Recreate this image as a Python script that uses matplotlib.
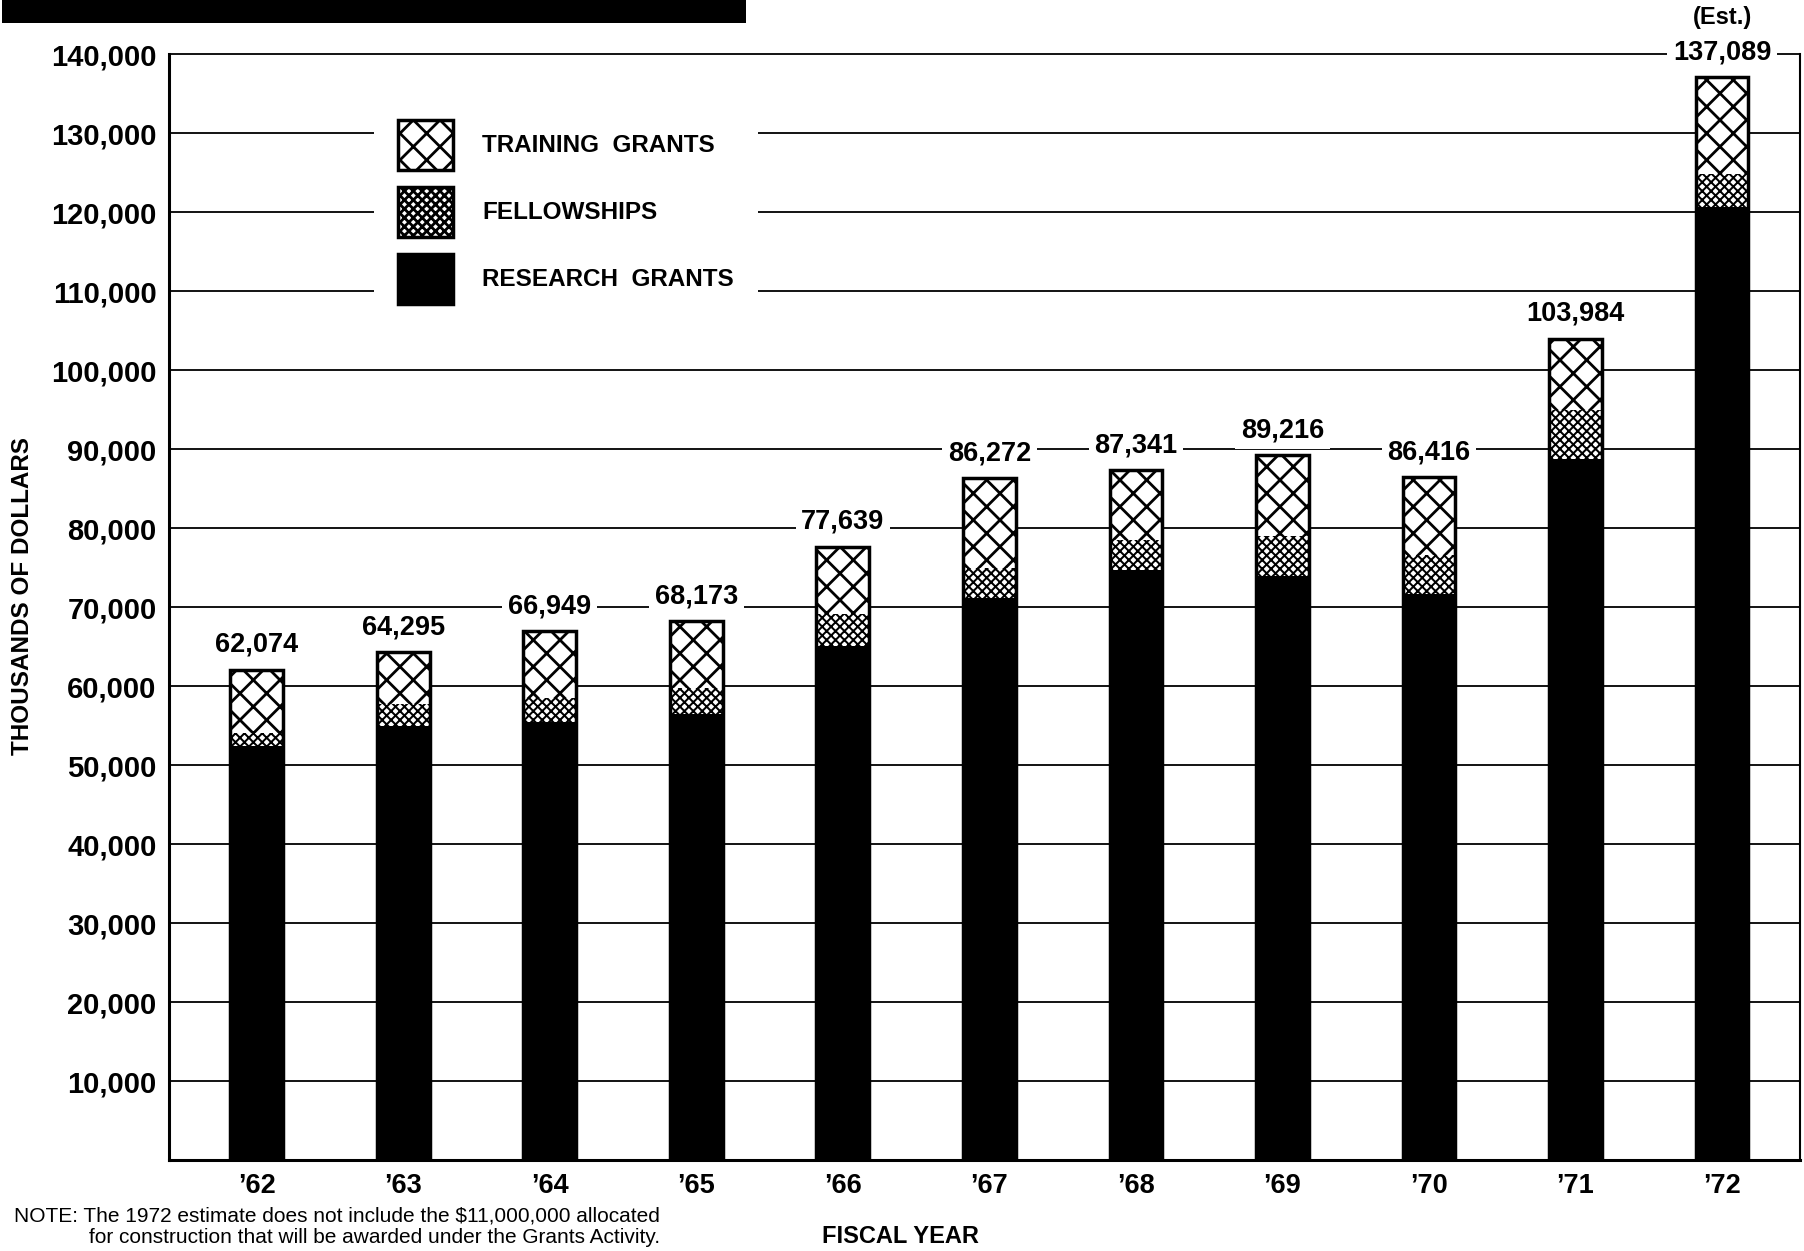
import matplotlib
matplotlib.use('Agg')
import matplotlib.pyplot as plt
from matplotlib.patches import Rectangle, Patch
import numpy as np

# drawn at 80 dpi so the hatch cells come out at the printed density;
# S converts sizes given for 100 dpi into points at 80 dpi
DPI = 80
S = 100 / DPI

plt.rcParams['font.family'] = ['Liberation Sans', 'DejaVu Sans']
plt.rcParams['hatch.linewidth'] = 2.0 * S

# Grant awards by fiscal year, thousands of dollars
years = ['’62', '’63', '’64', '’65', '’66', '’67', '’68', '’69', '’70', '’71', '’72']
research = [52400, 54900, 55400, 56400, 65100, 71100, 74700, 73900, 71700, 88700, 120600]
fellowships = [1600, 2800, 3100, 3300, 4000, 3800, 3850, 5080, 4900, 6300, 4200]
training = [8074, 6595, 8449, 8473, 8539, 11372, 8791, 10236, 9816, 8984, 12289]
totals = [62074, 64295, 66949, 68173, 77639, 86272, 87341, 89216, 86416, 103984, 137089]
yticks = list(range(10000, 140001, 10000))

fig = plt.figure(figsize=(1804 / DPI, 1251 / DPI), dpi=DPI)
ax = fig.add_axes([0.0937, 0.0727, 0.9041, 0.8841])

x = np.arange(len(years))
w = 0.36
research = np.array(research)
fellowships = np.array(fellowships)

cross = 'x'
fine_lines = hasattr(Patch(), 'set_hatch_linewidth')
stipple = 'xxx'


def thin_hatch(patches):
    if fine_lines:
        for p in patches:
            p.set_hatch_linewidth(1.45 * S)


# horizontal rules behind the bars
for v in yticks:
    ax.axhline(v, color='black', lw=1.3 * S, zorder=1, clip_on=False)

ax.bar(x, research, w, color='black', linewidth=0, zorder=3)
fel = ax.bar(x, fellowships, w, bottom=research, facecolor='white', edgecolor='black',
             hatch=stipple, linewidth=0, zorder=3)
thin_hatch(fel)
ax.bar(x, training, w, bottom=research + fellowships, facecolor='white',
       edgecolor='black', hatch=cross, linewidth=0, zorder=3)
# outline of the whole stack
ax.bar(x, totals, w, fill=False, edgecolor='black', linewidth=2.5 * S, zorder=4)

for xi, t in zip(x, totals):
    ax.annotate(f'{t:,}', (xi, t), xytext=(0, 18 * S), textcoords='offset points',
                ha='center', va='center', fontsize=19.5 * S, fontweight='bold',
                bbox=dict(facecolor='white', edgecolor='none', pad=4 * S), zorder=5)
ax.annotate('(Est.)', (x[-1], totals[-1]), xytext=(0, 43 * S), textcoords='offset points',
            ha='center', va='center', fontsize=17 * S, fontweight='bold')

ax.set_xlim(-0.598, 10.532)
ax.set_ylim(0, 140000)
ax.set_yticks(yticks)
ax.set_yticklabels([f'{v:,}' for v in yticks], fontweight='bold', fontsize=21 * S)
ax.set_xticks(x)
ax.set_xticklabels(years, fontweight='bold', fontsize=19.5 * S)
ax.tick_params(axis='both', length=0)
ax.tick_params(axis='y', pad=9 * S)
ax.tick_params(axis='x', pad=9 * S)

ax.spines['top'].set_visible(False)
ax.spines['left'].set_linewidth(2.2 * S)
ax.spines['bottom'].set_linewidth(2.2 * S)
ax.spines['right'].set_linewidth(1.5 * S)

handles = [
    Patch(facecolor='white', edgecolor='black', hatch=cross, linewidth=2.5 * S),
    Patch(facecolor='white', edgecolor='black', hatch=stipple, linewidth=2.5 * S),
    Patch(facecolor='black', edgecolor='black', linewidth=2.5 * S),
]
thin_hatch(handles[1:2])
labels = ['TRAINING  GRANTS', 'FELLOWSHIPS', 'RESEARCH  GRANTS']
leg = ax.legend(handles, labels, loc='upper left', bbox_to_anchor=(0.1257, 0.962),
                borderaxespad=0, borderpad=1.0, prop={'weight': 'bold', 'size': 17.5 * S},
                handlelength=2.25, handleheight=2.75, handletextpad=1.2,
                labelspacing=0.72, fancybox=False, framealpha=1,
                facecolor='white', edgecolor='none')
leg.set_zorder(6)

fig.text(0.0127, 0.5236, 'THOUSANDS OF DOLLARS', rotation=90, ha='center', va='center',
         fontsize=17.5 * S, fontweight='bold')
fig.text(0.4994, 0.0112, 'FISCAL YEAR', ha='center', va='center',
         fontsize=17 * S, fontweight='bold')
fig.text(0.366, 0.028, 'NOTE: The 1972 estimate does not include the $11,000,000 allocated',
         ha='right', va='center', fontsize=15 * S)
fig.text(0.366, 0.0104, 'for construction that will be awarded under the Grants Activity.',
         ha='right', va='center', fontsize=15 * S)

# heavy black band across the top left
fig.patches.append(Rectangle((0.001, 0.9816), 0.4125, 0.0184, transform=fig.transFigure,
                             facecolor='black', edgecolor='none'))

fig.savefig('out.png', dpi=DPI)
